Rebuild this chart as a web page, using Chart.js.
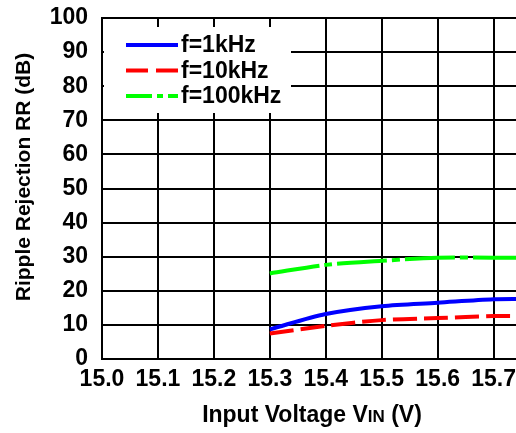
<!DOCTYPE html>
<html>
<head>
<meta charset="utf-8">
<script src="https://cdn.jsdelivr.net/npm/chart.js@4.4.1/dist/chart.umd.min.js"></script>
<style>
  html, body { margin: 0; padding: 0; background: #fff; }
  #wrap { width: 516px; height: 433px; }
</style>
</head>
<body>
<div id="wrap"><canvas id="rr" width="516" height="433"></canvas></div>
<script>
// values
const vin = [15.3, 15.4, 15.5, 15.6, 15.7, 15.75];
const rr1k = [8.7, 13.2, 15.5, 16.5, 17.5, 17.6];
const rr10k = [7.5, 9.7, 11.4, 12.0, 12.6, 12.6];
const rr100k = [25.1, 27.6, 28.8, 29.7, 29.7, 29.7];
const seriesNames = ['f=1kHz', 'f=10kHz', 'f=100kHz'];
const xTicks = [15.0, 15.1, 15.2, 15.3, 15.4, 15.5, 15.6, 15.7];
const yTicks = [0, 10, 20, 30, 40, 50, 60, 70, 80, 90, 100];

const FONT = "'Liberation Sans', Arial, sans-serif";

function pts(ys) {
  return vin.map((x, i) => ({ x: x, y: ys[i] }));
}

// keep the plot box where the reference has it (no auto padding for labels)
function noPad(s) {
  s.paddingLeft = 0; s.paddingRight = 0; s.paddingTop = 0; s.paddingBottom = 0;
}

// legend box sits inside the plot and hides the grid behind it
const legendSamples = [[], [22, 8], [26, 5, 6, 5]];
const boxLegend = {
  id: 'boxLegend',
  afterDatasetsDraw(chart) {
    const c = chart.ctx;
    c.save();
    c.fillStyle = '#fff';
    c.fillRect(104, 27, 187, 86);
    chart.data.datasets.forEach((ds, i) => {
      const y = 45 + i * 25.5;
      c.strokeStyle = ds.borderColor;
      c.lineWidth = 4;
      c.setLineDash(legendSamples[i]);
      c.beginPath();
      c.moveTo(126, y);
      c.lineTo(178, y);
      c.stroke();
      c.setLineDash([]);
      c.fillStyle = '#000';
      c.font = 'bold 23px ' + FONT;
      c.textBaseline = 'middle';
      c.fillText(ds.label, 181, y + 1);
    });
    c.restore();
  }
};

// axis titles, x one with the small "IN" subscript
const axisTitles = {
  id: 'axisTitles',
  afterDraw(chart) {
    const c = chart.ctx;
    const a = chart.chartArea;
    const parts = [['Input Voltage V', 23], ['IN', 17], [' (V)', 23]];
    c.save();
    c.fillStyle = '#000';
    c.textBaseline = 'alphabetic';
    let w = 0;
    parts.forEach(p => { c.font = 'bold ' + p[1] + 'px ' + FONT; w += c.measureText(p[0]).width; });
    let x = (a.left + a.right) / 2 - w / 2 + 3;
    parts.forEach(p => {
      c.font = 'bold ' + p[1] + 'px ' + FONT;
      c.fillText(p[0], x, 422);
      x += c.measureText(p[0]).width;
    });

    c.translate(29.5, 177);
    c.rotate(-Math.PI / 2);
    c.font = 'bold 21px ' + FONT;
    c.textAlign = 'center';
    c.fillText('Ripple Rejection RR (dB)', 0, 0);
    c.restore();
  }
};

new Chart(document.getElementById('rr'), {
  type: 'line',
  data: {
    datasets: [
      { label: seriesNames[0], data: pts(rr1k), borderColor: '#0000ff', borderWidth: 4, pointRadius: 0, tension: 0.3, fill: false },
      { label: seriesNames[1], data: pts(rr10k), borderColor: '#ff0000', borderWidth: 4, borderDash: [24, 7], pointRadius: 0, tension: 0.3, fill: false },
      { label: seriesNames[2], data: pts(rr100k), borderColor: '#00ff00', borderWidth: 4, borderDash: [50, 5, 8, 5], pointRadius: 0, tension: 0.3, fill: false }
    ]
  },
  options: {
    responsive: false,
    animation: false,
    layout: { padding: { top: 18, right: 0, left: 0, bottom: 0 } },
    plugins: { legend: { display: false }, tooltip: { enabled: false } },
    scales: {
      x: {
        type: 'linear',
        min: 15.0,
        max: 15.74,
        afterBuildTicks: s => { s.ticks = xTicks.map(v => ({ value: v })); },
        afterFit: s => { s.height = 74; noPad(s); },
        ticks: { color: '#000', font: { family: FONT, size: 23, weight: 'bold' }, padding: 7, maxRotation: 0, callback: v => v.toFixed(1) },
        grid: { color: '#000', lineWidth: 2, drawTicks: false },
        border: { color: '#000', width: 2 }
      },
      y: {
        min: 0,
        max: 100,
        afterBuildTicks: s => { s.ticks = yTicks.map(v => ({ value: v })); },
        afterFit: s => { s.width = 102; noPad(s); },
        ticks: { color: '#000', font: { family: FONT, size: 23, weight: 'bold' }, padding: 14 },
        grid: { color: '#000', lineWidth: 2, drawTicks: false },
        border: { color: '#000', width: 2 }
      }
    }
  },
  plugins: [boxLegend, axisTitles]
});
</script>
</body>
</html>
